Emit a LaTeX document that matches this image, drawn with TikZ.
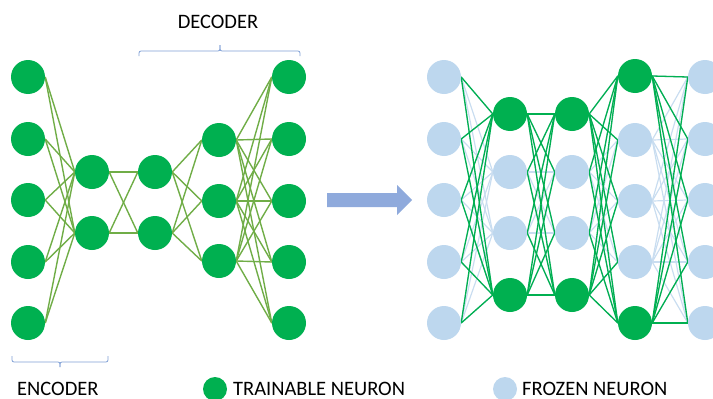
\documentclass[tikz,border=0pt]{standalone}
\usepackage{fontspec}
\setmainfont{Carlito}
\usetikzlibrary{backgrounds}

\definecolor{trainGreen}{HTML}{00B050}
\definecolor{frozenBlue}{HTML}{BDD7EE}
\definecolor{linkOlive}{HTML}{70AD47}
\definecolor{coldBlue}{HTML}{C9DDF0}
\definecolor{braceBlue}{HTML}{7F9FD5}
\definecolor{arrowBlue}{HTML}{8FAADC}

\tikzset{
  neuron/.style={circle, minimum size=34pt, inner sep=0pt, draw=none},
  trainable/.style={neuron, fill=trainGreen},
  frozen/.style={neuron, fill=frozenBlue},
  oldlink/.style={draw=linkOlive, line width=1.4pt},
  hotlink/.style={draw=trainGreen, line width=1.3pt},
  coldlink/.style={draw=coldBlue, line width=1.2pt},
  brace/.style={draw=braceBlue, line width=0.8pt, rounded corners=2pt},
  caption/.style={font=\fontsize{20.5}{24}\selectfont, inner sep=0pt, text=black},
}

\begin{document}
\begin{tikzpicture}[x=1pt, y=-1pt]
\useasboundingbox (0,0) rectangle (713,399);
\clip (0,0) rectangle (713,399);

% ---------- autoencoder, all neurons trainable ----------
\foreach \i/\y in {1/77,2/139,3/200,4/262,5/323}
  \node[trainable] (a\i) at (28,\y) {};
\foreach \i/\y in {1/172,2/233}
  \node[trainable] (b\i) at (92,\y) {};
\foreach \i/\y in {1/172,2/233}
  \node[trainable] (c\i) at (155,\y) {};
\foreach \i/\y in {1/140,2/201,3/261}
  \node[trainable] (d\i) at (219,\y) {};
\foreach \i/\y in {1/77,2/139,3/201,4/262,5/323}
  \node[trainable] (e\i) at (289,\y) {};

\begin{scope}[on background layer]
  \foreach \i in {1,...,5} \foreach \j in {1,2}
    \draw[oldlink] (a\i.east) -- (b\j.west);
  \foreach \i in {1,2} \foreach \j in {1,2}
    \draw[oldlink] (b\i.east) -- (c\j.west);
  \foreach \i in {1,2} \foreach \j in {1,2,3}
    \draw[oldlink] (c\i.east) -- (d\j.west);
  \foreach \i in {1,2,3} \foreach \j in {1,...,5}
    \draw[oldlink] (d\i.east) -- (e\j.west);
\end{scope}

% ---------- brackets and their labels ----------
\draw[brace] (139,56) -- (139,51) -- (220,51) -- (220,45);
\draw[brace] (220,45) -- (220,51) -- (300,51) -- (300,56);
\node[caption, anchor=base] (dec) at (218,28) {DECODER};

\draw[brace] (12,356) -- (12,362) -- (60,362) -- (60,367);
\draw[brace] (60,367) -- (60,362) -- (108,362) -- (108,356);
\node[caption, anchor=base west] (enc) at (17,395) {ENCODER};

% ---------- transition arrow ----------
\fill[arrowBlue] (327,193) -- (397,193) -- (397,185) -- (412,200)
  -- (397,215) -- (397,207) -- (327,207) -- cycle;

% ---------- fine-tuned network, mixed neurons ----------
\foreach \i/\y in {1/77,2/139,3/200,4/262,5/323}
  \node[frozen] (p\i) at (444,\y) {};
\foreach \i/\y/\kind in {1/114/trainable,2/172/frozen,3/233/frozen,4/295/trainable}
  \node[\kind] (q\i) at (510,\y) {};
\foreach \i/\y/\kind in {1/114/trainable,2/172/frozen,3/233/frozen,4/295/trainable}
  \node[\kind] (r\i) at (572,\y) {};
\foreach \i/\y/\kind in {1/76/trainable,2/140/frozen,3/201/frozen,4/262/frozen,5/323/trainable}
  \node[\kind] (s\i) at (635,\y) {};
\foreach \i/\y in {1/77,2/139,3/200,4/262,5/323}
  \node[frozen] (t\i) at (705,\y) {};

\begin{scope}[on background layer]
  % every connection, drawn pale first
  \foreach \i in {1,...,5} \foreach \j in {1,...,4}
    \draw[coldlink] (p\i.east) -- (q\j.west);
  \foreach \i in {1,...,4} \foreach \j in {1,...,4}
    \draw[coldlink] (q\i.east) -- (r\j.west);
  \foreach \i in {1,...,4} \foreach \j in {1,...,5}
    \draw[coldlink] (r\i.east) -- (s\j.west);
  \foreach \i in {1,...,5} \foreach \j in {1,...,5}
    \draw[coldlink] (s\i.east) -- (t\j.west);
  % connections touching a trainable neuron
  \foreach \i in {1,...,5} \foreach \j in {1,4}
    \draw[hotlink] (p\i.east) -- (q\j.west);
  \foreach \i in {1,4} \foreach \j in {1,...,4}
    \draw[hotlink] (q\i.east) -- (r\j.west);
  \foreach \i in {2,3} \foreach \j in {1,4}
    \draw[hotlink] (q\i.east) -- (r\j.west);
  \foreach \i in {1,4} \foreach \j in {1,...,5}
    \draw[hotlink] (r\i.east) -- (s\j.west);
  \foreach \i in {2,3} \foreach \j in {1,5}
    \draw[hotlink] (r\i.east) -- (s\j.west);
  \foreach \i in {1,5} \foreach \j in {1,...,5}
    \draw[hotlink] (s\i.east) -- (t\j.west);
\end{scope}

% ---------- legend ----------
\node[trainable, minimum size=24pt] (keyT) at (215,389) {};
\node[caption, anchor=base west] (keyTtext) at (233,395) {TRAINABLE NEURON};
\node[frozen, minimum size=24pt] (keyF) at (505,389) {};
\node[caption, anchor=base west] (keyFtext) at (522,395) {FROZEN NEURON};
\end{tikzpicture}
\end{document}
